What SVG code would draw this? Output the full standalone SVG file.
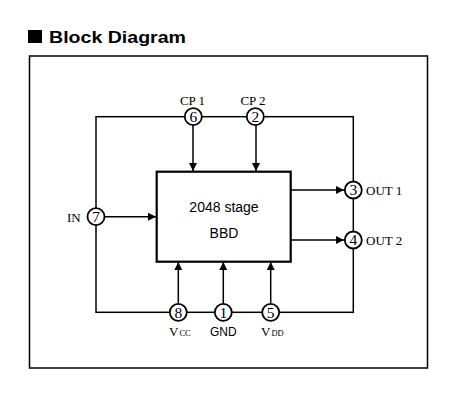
<svg xmlns="http://www.w3.org/2000/svg" width="457" height="405" viewBox="0 0 457 405">
<defs>
<style>
.ln{stroke:#000;stroke-width:1.5;fill:none}
.pin circle{fill:#fff;stroke:#000;stroke-width:1.8}
.num{font-family:"Liberation Serif",serif;font-size:15.5px;text-anchor:middle;fill:#000}
.lbl{font-family:"Liberation Serif",serif;font-size:13px;fill:#000}
.sans{font-family:"Liberation Sans",Arial,sans-serif;fill:#000}
</style>
<marker id="ah" viewBox="0 0 10 10" refX="10" refY="5" markerWidth="10" markerHeight="8" markerUnits="userSpaceOnUse" orient="auto">
<path d="M0,0 L10,5 L0,10 z" fill="#000"/>
</marker>
</defs>
<rect width="457" height="405" fill="#fff"/>
<g id="title">
<rect x="28" y="30" width="14" height="13" fill="#000"/>
<text x="49" y="43" class="sans" font-size="17" font-weight="bold" textLength="137" lengthAdjust="spacingAndGlyphs">Block Diagram</text>
</g>
<rect id="frame" x="29.5" y="56" width="398" height="312" class="ln"/>
<g id="connectors">
<rect x="96" y="116.7" width="257.3" height="195.6" class="ln"/>
<line x1="193" y1="125" x2="193" y2="171" class="ln" marker-end="url(#ah)"/>
<line x1="256" y1="125" x2="256" y2="171" class="ln" marker-end="url(#ah)"/>
<line x1="104" y1="216.7" x2="156" y2="216.7" class="ln" marker-end="url(#ah)"/>
<line x1="291" y1="190" x2="344" y2="190" class="ln" marker-end="url(#ah)"/>
<line x1="291" y1="240" x2="344" y2="240" class="ln" marker-end="url(#ah)"/>
<line x1="178.3" y1="304" x2="178.3" y2="262" class="ln" marker-end="url(#ah)"/>
<line x1="223.3" y1="304" x2="223.3" y2="262" class="ln" marker-end="url(#ah)"/>
<line x1="270.7" y1="304" x2="270.7" y2="262" class="ln" marker-end="url(#ah)"/>
</g>
<g id="bbd">
<rect x="156.7" y="171.7" width="134" height="90" fill="#fff" stroke="#000" stroke-width="2.2"/>
<text x="224" y="212" class="sans" font-size="14" text-anchor="middle">2048 stage</text>
<text x="224" y="238" class="sans" font-size="14" text-anchor="middle">BBD</text>
</g>
<g id="pin6" class="pin"><circle cx="193.3" cy="116.7" r="8.5"/><text x="193.3" y="122" class="num">6</text><text x="192.5" y="105" class="lbl" text-anchor="middle">CP 1</text></g>
<g id="pin2" class="pin"><circle cx="255.3" cy="116.7" r="8.5"/><text x="255.3" y="122" class="num">2</text><text x="253" y="105" class="lbl" text-anchor="middle">CP 2</text></g>
<g id="pin7" class="pin"><circle cx="96" cy="216.7" r="8.5"/><text x="96" y="222" class="num">7</text><text x="67" y="221.5" class="lbl">IN</text></g>
<g id="pin3" class="pin"><circle cx="353.3" cy="190" r="8.5"/><text x="353.3" y="195.3" class="num">3</text><text x="366" y="195" class="lbl">OUT 1</text></g>
<g id="pin4" class="pin"><circle cx="353.3" cy="240" r="8.5"/><text x="353.3" y="245.3" class="num">4</text><text x="366" y="245" class="lbl">OUT 2</text></g>
<g id="pin8" class="pin"><circle cx="178.3" cy="312.3" r="8.5"/><text x="178.3" y="317.6" class="num">8</text><text x="169" y="336" class="lbl">V<tspan font-size="8.5" dx="1">CC</tspan></text></g>
<g id="pin1" class="pin"><circle cx="223.3" cy="312.3" r="8.5"/><text x="223.3" y="317.6" class="num">1</text><text x="223.3" y="336" class="sans" font-size="12" text-anchor="middle">GND</text></g>
<g id="pin5" class="pin"><circle cx="270.7" cy="312.3" r="8.5"/><text x="270.7" y="317.6" class="num">5</text><text x="261" y="336" class="lbl">V<tspan font-size="8.5" dx="1">DD</tspan></text></g>
</svg>
